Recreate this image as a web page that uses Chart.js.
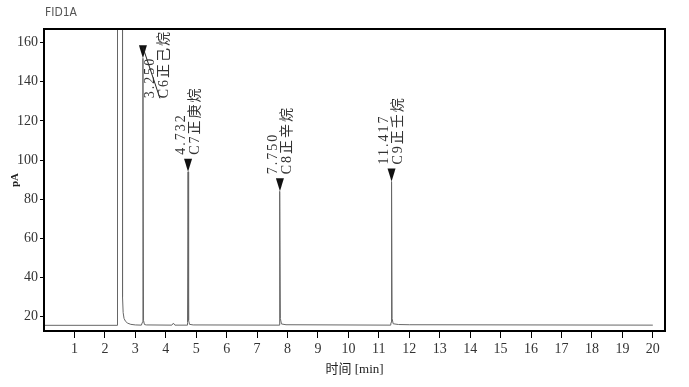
<!DOCTYPE html>
<html>
<head>
<meta charset="utf-8">
<script src="https://cdn.jsdelivr.net/npm/chart.js@4"></script>
<style>
  html, body { margin: 0; padding: 0; background: #fff; }
  #wrap { width: 689px; height: 387px; }
</style>
</head>
<body>
<div id="wrap"><canvas id="fid"></canvas></div>
<script>
// retention time (min) and detector signal (pA)
const times = [
  0, 2.40, 2.41, 2.42, 2.57, 2.58, 2.60, 2.63, 2.68, 2.75, 2.85, 3.0,
  3.20, 3.23, 3.25, 3.27, 3.30, 3.36,
  4.20, 4.25, 4.30,
  4.70, 4.715, 4.732, 4.75, 4.78, 4.9,
  7.72, 7.735, 7.75, 7.765, 7.80, 7.95,
  11.39, 11.40, 11.417, 11.435, 11.47, 11.65, 12.0, 20.0
];
const signal = [
  15.5, 15.5, 15.5, 900, 900, 30, 22, 19, 17.5, 16.6, 16.0, 15.7,
  15.6, 17, 152, 18, 15.9, 15.7,
  15.6, 16.6, 15.6,
  15.6, 17, 94, 18, 16.0, 15.7,
  15.6, 17, 84, 19, 16.2, 15.8,
  15.6, 17, 89, 19, 16.3, 15.9, 15.8, 15.6
];

// peak annotations
const peakTimes = [3.250, 4.732, 7.750, 11.417];
const peakLabels = ["3.250", "4.732", "7.750", "11.417"];
const peakNames = ["C6正己烷", "C7正庚烷", "C8正辛烷", "C9正壬烷"];
const peakHeights = [152, 94, 84, 89];

const xTicks = [1, 2, 3, 4, 5, 6, 7, 8, 9, 10, 11, 12, 13, 14, 15, 16, 17, 18, 19, 20];
const yTicks = [20, 40, 60, 80, 100, 120, 140, 160];

const tickFont = { family: "'Liberation Serif', 'DejaVu Serif', serif", size: 14 };
const labelFont = "14px 'Liberation Serif', 'Noto Sans CJK SC', serif";

const points = times.map((t, i) => ({ x: t, y: signal[i] }));

const annotate = {
  id: "annotate",
  afterDatasetsDraw(chart) {
    const { ctx, chartArea } = chart;
    const xs = chart.scales.x;
    const ys = chart.scales.y;
    ctx.save();
    ctx.font = labelFont;
    ctx.letterSpacing = "2px";
    peakTimes.forEach((t, i) => {
      const px = xs.getPixelForValue(t);
      const py = ys.getPixelForValue(peakHeights[i]);
      // arrow
      ctx.fillStyle = "#111";
      ctx.beginPath();
      ctx.moveTo(px, py);
      ctx.lineTo(px - 4, py - 13);
      ctx.lineTo(px + 4, py - 13);
      ctx.closePath();
      ctx.fill();

      const len = Math.max(ctx.measureText(peakLabels[i]).width, ctx.measureText(peakNames[i]).width);
      let bottom = py - 17;
      let lx = px;
      if (bottom - len < chartArea.top) {
        // no room above the peak: push label aside with a leader line
        bottom = chartArea.top + len + 1;
        lx = px + 14;
        ctx.strokeStyle = "#222";
        ctx.lineWidth = 1;
        ctx.beginPath();
        ctx.moveTo(px, py - 11);
        ctx.lineTo(lx + 3, bottom);
        ctx.stroke();
      }
      ctx.save();
      ctx.translate(lx, bottom);
      ctx.rotate(-Math.PI / 2);
      ctx.fillStyle = "#333";
      ctx.textAlign = "left";
      ctx.textBaseline = "middle";
      ctx.fillText(peakLabels[i], 0, -7);
      ctx.fillText(peakNames[i], 0, 7);
      ctx.restore();
    });
    ctx.restore();
  },
  afterDraw(chart) {
    const { ctx, chartArea } = chart;
    ctx.save();
    ctx.strokeStyle = "#000";
    ctx.lineWidth = 2;
    ctx.strokeRect(chartArea.left, chartArea.top, chartArea.right - chartArea.left, chartArea.bottom - chartArea.top);

    ctx.fillStyle = "#555";
    ctx.font = "12px 'Liberation Sans Narrow', 'DejaVu Sans Condensed', sans-serif";
    ctx.textBaseline = "middle";
    ctx.textAlign = "left";
    ctx.fillText("FID1A", 45, 13);

    ctx.fillStyle = "#222";
    ctx.font = "13px 'Liberation Serif', 'Noto Sans CJK SC', serif";
    ctx.textAlign = "center";
    ctx.fillText("时间 [min]", (chartArea.left + chartArea.right) / 2, 370);

    ctx.save();
    ctx.translate(15, (chartArea.top + chartArea.bottom) / 2);
    ctx.rotate(-Math.PI / 2);
    ctx.font = "bold 11px 'Liberation Serif', serif";
    ctx.fillText("pA", 0, 0);
    ctx.restore();
    ctx.restore();
  }
};

new Chart(document.getElementById("fid"), {
  type: "scatter",
  data: {
    datasets: [
      {
        data: points,
        showLine: true,
        borderColor: "#666",
        borderWidth: 1,
        pointRadius: 0,
        tension: 0,
        clip: 0,
      },
    ],
  },
  options: {
    responsive: true,
    maintainAspectRatio: false,
    animation: false,
    layout: { padding: { top: 29, right: 24, left: 0, bottom: 0 } },
    plugins: { legend: { display: false }, tooltip: { enabled: false } },
    scales: {
      x: {
        type: "linear",
        min: 0,
        max: 20.4,
        afterBuildTicks: (s) => { s.ticks = xTicks.map((v) => ({ value: v })); },
        afterFit: (s) => { s.height = 56; },
        grid: { drawOnChartArea: false, drawTicks: true, tickLength: 7, color: "#000", lineWidth: 1 },
        border: { display: false },
        ticks: { color: "#333", font: tickFont, padding: 3, maxRotation: 0, autoSkip: false },
      },
      y: {
        min: 12.6,
        max: 167,
        afterBuildTicks: (s) => { s.ticks = yTicks.map((v) => ({ value: v })); },
        afterFit: (s) => { s.width = 44; },
        grid: { drawOnChartArea: false, drawTicks: true, tickLength: 4, color: "#000", lineWidth: 1 },
        border: { display: false },
        ticks: { color: "#333", font: tickFont, padding: 2, autoSkip: false },
      },
    },
  },
  plugins: [annotate],
});
</script>
</body>
</html>
